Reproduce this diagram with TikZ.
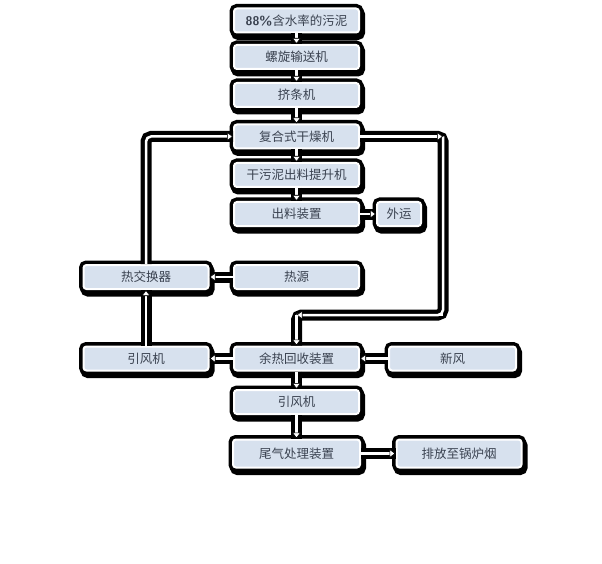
\documentclass[tikz,border=0pt]{standalone}
\usepackage{fontspec}
\newfontfamily\cjk{Noto Sans CJK SC}
\usetikzlibrary{arrows.meta,shadows}
\definecolor{boxblue}{HTML}{D7E1EE}
\definecolor{txt}{HTML}{3A4250}
\begin{document}
\begin{tikzpicture}[x=1pt,y=-1pt,
  box/.style={draw=white, line width=2pt, fill=boxblue, rounded corners=3pt,
    minimum width=125pt, minimum height=24pt, inner sep=0pt,
    font=\cjk\fontsize{12.5}{14}\selectfont, text=txt,
    general shadow={draw=black, fill=black, line width=9pt, shadow xshift=1.5pt, shadow yshift=-3pt},
    preaction={draw=black, line width=9pt}},
  casing/.style={draw=black, line width=11pt, rounded corners=5pt},
  core/.style={draw=white, line width=2.5pt, rounded corners=5pt,
    -{Triangle[width=9pt,length=6pt,fill=white,color=black,line width=0.6pt]}},
  plain/.style={draw=white, line width=2.5pt, rounded corners=5pt}]
\useasboundingbox[fill=white] (0,0) rectangle (602,564);

% main column
\node[box] (sludge) at (296.5,20.5) {{\sffamily\bfseries 88\%}含水率的污泥};
\node[box] (screw)  at (296.5,57)   {螺旋输送机};
\node[box] (extr)   at (296.5,95)   {挤条机};
\node[box] (dry)    at (296.5,136.5){复合式干燥机};
\node[box] (lift)   at (296.5,175)  {干污泥出料提升机};
\node[box] (out)    at (296.5,214)  {出料装置};
\node[box, minimum width=44pt] (wy) at (399,214) {外运};
\node[box] (hx)     at (146,277)    {热交换器};
\node[box] (src)    at (296.5,277)  {热源};
\node[box] (fan1)   at (146,358.5)  {引风机};
\node[box] (rec)    at (296.5,358.5){余热回收装置};
\node[box, minimum width=127pt] (fresh) at (452.5,358.5) {新风};
\node[box] (fan2)   at (296.5,402)  {引风机};
\node[box, minimum width=127pt, minimum height=28pt] (tail) at (296.5,453.5) {尾气处理装置};
\node[box, minimum height=28pt] (emit) at (459,453.5) {排放至锅炉烟};

\coordinate (rx) at (443,0);
\coordinate (ry) at (0,315);
\coordinate (r1) at (dry.east -| rx);
\coordinate (r2) at (rx |- ry);
\coordinate (r3) at (rec.north |- ry);
\coordinate (l1) at (hx.north |- dry.west);

% casings
\draw[casing] (sludge.south) -- (screw.north);
\draw[casing] (screw.south) -- (extr.north);
\draw[casing] (extr.south) -- (dry.north);
\draw[casing] (dry.south) -- (lift.north);
\draw[casing] (lift.south) -- (out.north);
\draw[casing] (out.east) -- (wy.west);
\draw[casing] (hx.north) -- (l1) -- (dry.west);
\draw[casing] (dry.east) -- (r1) -- (r2) -- (r3) -- (rec.north);
\draw[casing] (src.west) -- (hx.east);
\draw[casing] (fan1.north) -- (hx.south);
\draw[casing] (rec.west) -- (fan1.east);
\draw[casing] (fresh.west) -- (rec.east);
\draw[casing] (rec.south) -- (fan2.north);
\draw[casing] (fan2.south) -- (tail.north);
\draw[casing] (tail.east) -- (emit.west);

% cores
\draw[core] (sludge.south) -- (screw.north);
\draw[core] (screw.south) -- (extr.north);
\draw[core] (extr.south) -- (dry.north);
\draw[core] (dry.south) -- (lift.north);
\draw[core] (lift.south) -- (out.north);
\draw[core] (out.east) -- (wy.west);
\draw[core] (hx.north) -- (l1) -- (dry.west);
\draw[plain] (r1) -- (r2) -- (r3);
\draw[core] (dry.east) -- (r1);
\draw[core] (r2) -- (r3);
\draw[core] (r3) -- (rec.north);
\draw[core] (src.west) -- (hx.east);
\draw[core] (fan1.north) -- (hx.south);
\draw[core] (rec.west) -- (fan1.east);
\draw[core] (fresh.west) -- (rec.east);
\draw[core] (rec.south) -- (fan2.north);
\draw[core] (fan2.south) -- (tail.north);
\draw[core] (tail.east) -- (emit.west);
\end{tikzpicture}
\end{document}
